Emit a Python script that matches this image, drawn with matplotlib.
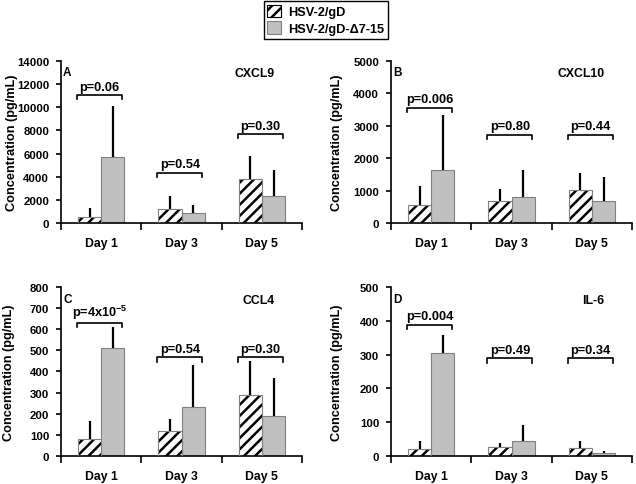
import matplotlib
matplotlib.use('Agg')
import matplotlib.pyplot as plt
from matplotlib.patches import Patch
import numpy as np

plt.rcParams['font.family'] = ['Liberation Sans', 'DejaVu Sans']
plt.rcParams['font.weight'] = 'bold'
plt.rcParams['hatch.linewidth'] = 1.8
plt.rcParams['mathtext.fontset'] = 'custom'
plt.rcParams['mathtext.rm'] = 'Liberation Sans:bold'
plt.rcParams['mathtext.bf'] = 'Liberation Sans:bold'

days = ['Day 1', 'Day 3', 'Day 5']
series = ['HSV-2/gD', 'HSV-2/gD-\u03947-15']

# means and upper SD per day: HSV-2/gD (gd) and HSV-2/gD-d7-15 (d715)
cxcl9_gd = [550, 1260, 3850]
cxcl9_gd_sd = [740, 1090, 1970]
cxcl9_d715 = [5690, 860, 2330]
cxcl9_d715_sd = [4440, 740, 2230]
cxcl9_p = ['p=0.06', 'p=0.54', 'p=0.30']
cxcl9_brk = [11030, 4360, 7660]

cxcl10_gd = [575, 700, 1030]
cxcl10_gd_sd = [570, 340, 520]
cxcl10_d715 = [1645, 800, 700]
cxcl10_d715_sd = [1675, 825, 720]
cxcl10_p = ['p=0.006', 'p=0.80', 'p=0.44']
cxcl10_brk = [3560, 2725, 2725]

ccl4_gd = [77, 115, 287]
ccl4_gd_sd = [86, 59, 161]
ccl4_d715 = [512, 230, 187]
ccl4_d715_sd = [98, 199, 181]
ccl4_p = [r'p=4x10$^{-5}$', 'p=0.54', 'p=0.30']
ccl4_brk = [629, 467, 467]

il6_gd = [19, 25, 24]
il6_gd_sd = [24, 13, 19]
il6_d715 = [304, 45, 9]
il6_d715_sd = [53, 47, 5]
il6_p = ['p=0.004', 'p=0.49', 'p=0.34']
il6_brk = [389, 289, 289]

panels = [
    ('A', 'CXCL9', cxcl9_gd, cxcl9_gd_sd, cxcl9_d715, cxcl9_d715_sd, cxcl9_p, cxcl9_brk, 14000, 2000),
    ('B', 'CXCL10', cxcl10_gd, cxcl10_gd_sd, cxcl10_d715, cxcl10_d715_sd, cxcl10_p, cxcl10_brk, 5000, 1000),
    ('C', 'CCL4', ccl4_gd, ccl4_gd_sd, ccl4_d715, ccl4_d715_sd, ccl4_p, ccl4_brk, 800, 100),
    ('D', 'IL-6', il6_gd, il6_gd_sd, il6_d715, il6_d715_sd, il6_p, il6_brk, 500, 100),
]

# axes rectangles in figure fractions
rects = [
    [0.0959, 0.5375, 0.379, 0.3353],
    [0.6148, 0.5375, 0.379, 0.3353],
    [0.0959, 0.0584, 0.379, 0.3472],
    [0.6148, 0.0584, 0.379, 0.3472],
]
label_x = [-0.18, -0.20, -0.19, -0.20]

fig = plt.figure(figsize=(6.36, 4.85), dpi=100)
gray = '#c0c0c0'
edge = '#808080'
w = 0.29

for i, (letter, name, gd, gd_sd, d715, d715_sd, pvals, brk, ymax, step) in enumerate(panels):
    ax = fig.add_axes(rects[i])
    x = np.arange(len(days)) + 0.5
    zeros = np.zeros(len(days))

    ax.bar(x - w / 2, gd, w, color='white', edgecolor='black', hatch='///', linewidth=0, zorder=2)
    ax.bar(x - w / 2, gd, w, fill=False, edgecolor=edge, linewidth=0.8, zorder=3)
    ax.bar(x + w / 2, d715, w, color=gray, edgecolor=edge, linewidth=0.8, zorder=2)
    ax.errorbar(x - w / 2, gd, yerr=[zeros, gd_sd], fmt='none', ecolor='black',
                elinewidth=1.6, capsize=0, zorder=4)
    ax.errorbar(x + w / 2, d715, yerr=[zeros, d715_sd], fmt='none', ecolor='black',
                elinewidth=1.6, capsize=0, zorder=4)

    leg = 0.025 * ymax
    for xc, yb, pt in zip(x, brk, pvals):
        l, r = xc - 0.30, xc + 0.26
        ax.plot([l, l, r, r], [yb - leg, yb, yb, yb - leg], color='black', lw=1.2, zorder=5)
        ax.text((l + r) / 2, yb + 0.015 * ymax, pt, ha='center', va='bottom',
                fontsize=9.2, fontweight='bold')

    ax.text(0.026, 0.93, letter, transform=ax.transAxes, ha='center', va='center',
            fontsize=8.5, fontweight='bold')
    ax.text(0.885, 0.925, name, transform=ax.transAxes, ha='right', va='center',
            fontsize=8.8, fontweight='bold')

    ax.set_xlim(0, 3)
    ax.set_ylim(0, ymax)
    ax.set_yticks(np.arange(0, ymax + 1, step))
    ax.set_xticks(x)
    ax.set_xticklabels(days, fontsize=8.8, fontweight='bold')
    ax.set_xticks([0, 1, 2, 3], minor=True)
    ax.tick_params(axis='x', which='major', length=0, pad=10)
    ax.tick_params(axis='x', which='minor', length=5, width=1.2, direction='out')
    ax.tick_params(axis='y', length=3.5, width=1.2, direction='out', labelsize=8.2, pad=5)
    for lab in ax.get_yticklabels():
        lab.set_fontweight('bold')

    for s in ['top', 'right']:
        ax.spines[s].set_visible(False)
    for s in ['left', 'bottom']:
        ax.spines[s].set_linewidth(1.2)

    ax.set_ylabel('Concentration (pg/mL)', fontsize=9.2, fontweight='bold')
    ax.yaxis.set_label_coords(label_x[i], 0.5)

handles = [
    Patch(facecolor='white', edgecolor='black', hatch='///', linewidth=0.8),
    Patch(facecolor=gray, edgecolor=edge, linewidth=0.8),
]
lg = fig.legend(handles, series, loc='upper center', bbox_to_anchor=(0.512, 0.996),
                fancybox=False, edgecolor='black', framealpha=1, fontsize=9.2,
                handlelength=1.1, handleheight=1.1, handletextpad=0.5,
                borderpad=0.3, labelspacing=0.25, borderaxespad=0)
lg.get_frame().set_linewidth(1.0)
for t in lg.get_texts():
    t.set_fontweight('bold')

fig.savefig('out.png', dpi=100)
